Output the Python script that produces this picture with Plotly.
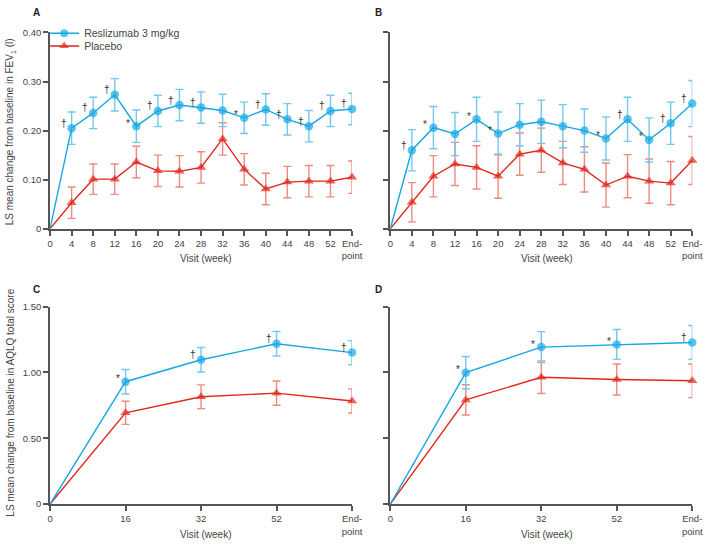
import plotly.graph_objects as go

W, H = 716, 546

weeks_ab = ["0", "4", "8", "12", "16", "20", "24", "28", "32", "36", "40", "44", "48", "52", "End-<br>point"]
weeks_cd = ["0", "16", "32", "52", "End-<br>point"]

# Panel A: FEV1, Study 3082
a_resl = [0, 0.205, 0.236, 0.273, 0.209, 0.240, 0.252, 0.247, 0.241, 0.226, 0.243, 0.223, 0.209, 0.240, 0.244]
a_resl_err = [0, 0.033, 0.032, 0.033, 0.033, 0.032, 0.032, 0.032, 0.033, 0.032, 0.032, 0.032, 0.032, 0.032, 0.032]
a_plac = [0, 0.053, 0.101, 0.101, 0.136, 0.118, 0.117, 0.125, 0.183, 0.121, 0.081, 0.095, 0.097, 0.097, 0.105]
a_plac_err = [0, 0.032, 0.031, 0.031, 0.032, 0.032, 0.032, 0.032, 0.033, 0.032, 0.032, 0.032, 0.032, 0.032, 0.033]
a_sig = ["", "†", "†", "†", "*", "†", "†", "†", "", "*", "†", "†", "†", "†", "†"]

# Panel B: FEV1, Study 3083
b_resl = [0, 0.160, 0.206, 0.193, 0.223, 0.194, 0.212, 0.218, 0.209, 0.200, 0.184, 0.223, 0.181, 0.215, 0.255]
b_resl_err = [0, 0.042, 0.043, 0.044, 0.045, 0.044, 0.043, 0.044, 0.044, 0.044, 0.044, 0.045, 0.045, 0.043, 0.047]
b_plac = [0, 0.054, 0.107, 0.132, 0.125, 0.107, 0.152, 0.160, 0.134, 0.121, 0.089, 0.107, 0.097, 0.093, 0.139]
b_plac_err = [0, 0.040, 0.042, 0.044, 0.044, 0.045, 0.043, 0.045, 0.044, 0.046, 0.045, 0.044, 0.045, 0.044, 0.049]
b_sig = ["", "†", "*", "", "*", "*", "", "", "", "", "*", "†", "*", "†", "†"]

# Panel C: AQLQ, Study 3082
c_resl = [0, 0.929, 1.096, 1.217, 1.150]
c_resl_err = [0, 0.093, 0.093, 0.093, 0.091]
c_plac = [0, 0.693, 0.815, 0.842, 0.783]
c_plac_err = [0, 0.088, 0.090, 0.092, 0.092]
c_sig = ["", "*", "†", "†", "†"]

# Panel D: AQLQ, Study 3083
d_resl = [0, 0.998, 1.192, 1.212, 1.227]
d_resl_err = [0, 0.122, 0.117, 0.113, 0.129]
d_plac = [0, 0.791, 0.963, 0.946, 0.936]
d_plac_err = [0, 0.115, 0.124, 0.118, 0.128]
d_sig = ["", "*", "*", "*", "†"]

fev_ticks = [0, 0.10, 0.20, 0.30, 0.40]
fev_ticktext = ["0", "0.10", "0.20", "0.30", "0.40"]
aqlq_ticks = [0, 0.50, 1.00, 1.50]
aqlq_ticktext = ["0", "0.50", "1.00", "1.50"]

BLUE = "#17A8E3"
BLUE_ERR = "#72C8EE"
RED = "#E1261C"
RED_ERR = "#EE8A80"
AXIS = "#555555"
TXT = "#444444"
FONT = "Liberation Sans, Arial, sans-serif"


def px_x(p):
    return p / W


def px_y(p):
    return 1 - p / H


fig = go.Figure()

panels = [
    ("x", "y", weeks_ab, a_resl, a_resl_err, a_plac, a_plac_err, a_sig, True),
    ("x2", "y2", weeks_ab, b_resl, b_resl_err, b_plac, b_plac_err, b_sig, False),
    ("x3", "y3", weeks_cd, c_resl, c_resl_err, c_plac, c_plac_err, c_sig, False),
    ("x4", "y4", weeks_cd, d_resl, d_resl_err, d_plac, d_plac_err, d_sig, False),
]

annotations = []
for xa, ya, cats, resl, resl_err, plac, plac_err, sig, show in panels:
    for vals, errs, col, ecol, sym, name, leg in [
        (plac, plac_err, RED, RED_ERR, "triangle-up", "Placebo", "legend2"),
        (resl, resl_err, BLUE, BLUE_ERR, "circle", "Reslizumab 3 mg/kg", "legend"),
    ]:
        # error bars (excluding baseline point)
        fig.add_trace(go.Scatter(
            x=cats[1:], y=vals[1:], mode="markers", xaxis=xa, yaxis=ya,
            marker=dict(size=2, color="rgba(0,0,0,0)"),
            error_y=dict(type="data", array=errs[1:], color=ecol, thickness=1.4, width=4),
            showlegend=False, hoverinfo="skip", cliponaxis=False,
        ))
        msize = [0] + [9 if sym == "triangle-up" else 8.5] * (len(vals) - 1)
        fig.add_trace(go.Scatter(
            x=cats, y=vals, mode="lines+markers", xaxis=xa, yaxis=ya,
            line=dict(color=col, width=1.4),
            marker=dict(symbol=sym, size=msize, color=col, line=dict(width=0)),
            name=name, showlegend=show, legend=leg, cliponaxis=False,
        ))
    for i, (v, s) in enumerate(zip(resl, sig)):
        if s:
            annotations.append(dict(
                x=i, y=v, xref=xa, yref=ya, text=s, showarrow=False,
                xanchor="center", yanchor="middle",
                xshift=-8, yshift=5 if s == "†" else 3,
                font=dict(size=10, color="#333333", family=FONT),
            ))

xdom_left = [px_x(48), px_x(356)]
xdom_right = [px_x(395), px_x(703)]
ydom_top = [px_y(227.3), px_y(27)]
ydom_bot = [px_y(508.3), px_y(306.7)]

common_x = dict(
    type="category", showline=True, linecolor=AXIS, linewidth=1.8,
    ticks="outside", ticklen=5, tickwidth=1.5, tickcolor=AXIS,
    showgrid=False, zeroline=False, tickfont=dict(size=9.5, color=TXT, family=FONT),
)
common_y = dict(
    showline=True, linecolor=AXIS, linewidth=1.8,
    ticks="outside", ticklen=5, tickwidth=1.5, tickcolor=AXIS,
    showgrid=False, zeroline=False, tickfont=dict(size=9.5, color=TXT, family=FONT),
)

fig.update_layout(
    width=W, height=H,
    margin=dict(l=0, r=0, t=0, b=0),
    paper_bgcolor="white", plot_bgcolor="white",
    font=dict(family=FONT, size=10, color=TXT),
    xaxis=dict(common_x, domain=xdom_left, anchor="y", range=[0, len(weeks_ab) - 1],
               categoryorder="array", categoryarray=weeks_ab),
    xaxis2=dict(common_x, domain=xdom_right, anchor="y2", range=[0, len(weeks_ab) - 1],
                categoryorder="array", categoryarray=weeks_ab),
    xaxis3=dict(common_x, domain=xdom_left, anchor="y3", range=[0, len(weeks_cd) - 1],
                categoryorder="array", categoryarray=weeks_cd),
    xaxis4=dict(common_x, domain=xdom_right, anchor="y4", range=[0, len(weeks_cd) - 1],
                categoryorder="array", categoryarray=weeks_cd),
    yaxis=dict(common_y, domain=ydom_top, anchor="x", range=[0, 0.40],
               tickvals=fev_ticks, ticktext=fev_ticktext),
    yaxis2=dict(common_y, domain=ydom_top, anchor="x2", range=[0, 0.40],
                tickvals=fev_ticks, showticklabels=False),
    yaxis3=dict(common_y, domain=ydom_bot, anchor="x3", range=[0, 1.50],
                tickvals=aqlq_ticks, ticktext=aqlq_ticktext),
    yaxis4=dict(common_y, domain=ydom_bot, anchor="x4", range=[0, 1.50],
                tickvals=aqlq_ticks, showticklabels=False),
    legend=dict(x=px_x(42), y=px_y(13), xanchor="left", yanchor="top",
                bgcolor="rgba(0,0,0,0)", font=dict(size=10.5, color=TXT, family=FONT),
                itemwidth=30, tracegroupgap=0),
    legend2=dict(x=px_x(42), y=px_y(26), xanchor="left", yanchor="top",
                 bgcolor="rgba(0,0,0,0)", font=dict(size=10.5, color=TXT, family=FONT),
                 itemwidth=30, tracegroupgap=0),
)

# panel letters
for letter, x, y in [("A", 34, 7), ("B", 383, 7), ("C", 34, 289), ("D", 383, 289)]:
    annotations.append(dict(x=px_x(x), y=px_y(y), xref="paper", yref="paper",
                            xanchor="center", yanchor="middle",
                            text="<b>" + letter + "</b>", showarrow=False,
                            font=dict(size=10, color="#222222", family=FONT)))

# axis titles
for x, y in [(207, 258), (555, 258), (207, 539), (555, 539)]:
    annotations.append(dict(x=px_x(x), y=px_y(y), xref="paper", yref="paper",
                            xanchor="center", yanchor="middle",
                            text="Visit (week)", showarrow=False,
                            font=dict(size=10, color=TXT, family=FONT)))

annotations.append(dict(x=px_x(8), y=px_y(128), xref="paper", yref="paper",
                        xanchor="center", yanchor="middle",
                        text="LS mean change from baseline in FEV<sub>1</sub> (l)",
                        textangle=-90, showarrow=False,
                        font=dict(size=10, color=TXT, family=FONT)))
annotations.append(dict(x=px_x(8), y=px_y(405), xref="paper", yref="paper",
                        xanchor="center", yanchor="middle",
                        text="LS mean change from baseline in AQLQ total score",
                        textangle=-90, showarrow=False,
                        font=dict(size=10, color=TXT, family=FONT)))

fig.update_layout(annotations=annotations)

fig.write_html("out.html",
               config={"displayModeBar": False},
               post_script="document.body.style.margin='0';document.body.style.padding='0';")
